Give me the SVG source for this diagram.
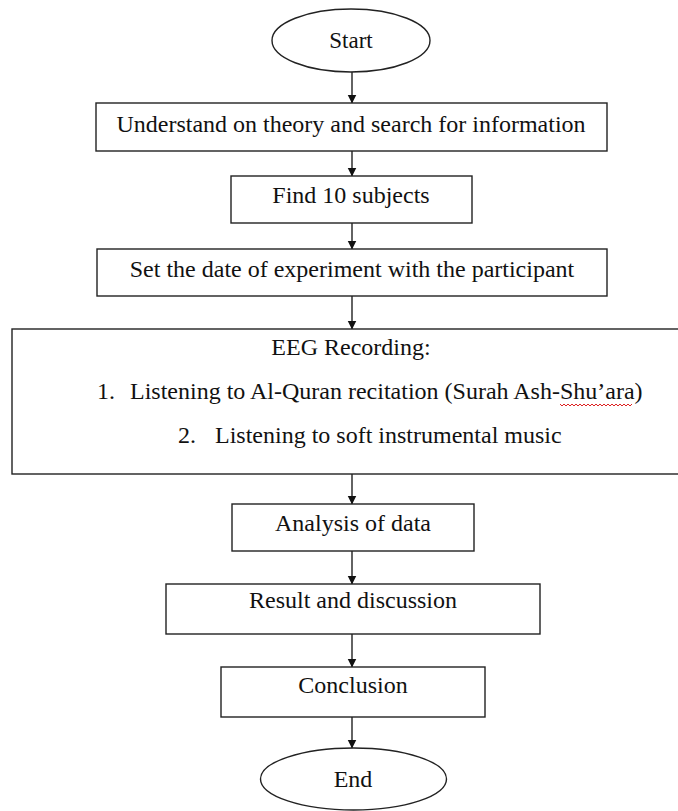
<svg xmlns="http://www.w3.org/2000/svg" width="678" height="811" viewBox="0 0 678 811">
<style>
.box{fill:#fff;stroke:#222;stroke-width:1.4}
.t{font-family:"Liberation Serif","Times New Roman",serif;font-size:24px;fill:#111}
.c{text-anchor:middle}
.con{stroke:#222;stroke-width:1.4;fill:none;marker-end:url(#ah)}
</style>
<defs>
<marker id="ah" markerWidth="9" markerHeight="10" refX="8.5" refY="5" orient="auto" markerUnits="userSpaceOnUse">
<path d="M0,0.5 L9,5 L0,9.5 Z" fill="#111"/>
</marker>
</defs>
<rect width="678" height="811" fill="#fff"/>
<g id="connectors">
<line class="con" x1="352" y1="72" x2="352" y2="103"/>
<line class="con" x1="352" y1="151" x2="352" y2="176"/>
<line class="con" x1="352" y1="223" x2="352" y2="249"/>
<line class="con" x1="352" y1="296" x2="352" y2="329"/>
<line class="con" x1="352" y1="474" x2="352" y2="504"/>
<line class="con" x1="352" y1="551" x2="352" y2="584"/>
<line class="con" x1="352" y1="634" x2="352" y2="667"/>
<line class="con" x1="352" y1="717" x2="352" y2="748"/>
</g>
<g id="start">
<ellipse class="box" cx="351" cy="40.5" rx="79" ry="31.5"/>
<text class="t c" x="351" y="48" style="font-size:23px">Start</text>
</g>
<g id="understand">
<rect class="box" x="96" y="103" width="511" height="48"/>
<text class="t c" x="351" y="132">Understand on theory and search for information</text>
</g>
<g id="find">
<rect class="box" x="231" y="176" width="241" height="47"/>
<text class="t c" x="351" y="203">Find 10 subjects</text>
</g>
<g id="setdate">
<rect class="box" x="97" y="249" width="510" height="47"/>
<text class="t c" x="352" y="277">Set the date of experiment with the participant</text>
</g>
<g id="eeg">
<rect class="box" x="12" y="329" width="670" height="145"/>
<text class="t c" x="351" y="355">EEG Recording:</text>
<text class="t" x="97" y="399">1.</text>
<text class="t" x="130" y="399">Listening to Al-Quran recitation (Surah Ash-Shu’ara)</text>
<path d="M560,404 l2,2 l2,-2 l2,2 l2,-2 l2,2 l2,-2 l2,2 l2,-2 l2,2 l2,-2 l2,2 l2,-2 l2,2 l2,-2 l2,2 l2,-2 l2,2 l2,-2 l2,2 l2,-2 l2,2 l2,-2 l2,2 l2,-2 l2,2 l2,-2 l2,2 l2,-2 l2,2 l2,-2 l2,2 l2,-2 l2,2 l2,-2 l2,2 l2,-2" fill="none" stroke="#d22" stroke-width="1"/>
<text class="t" x="178" y="443">2.</text>
<text class="t" x="215" y="443">Listening to soft instrumental music</text>
</g>
<g id="analysis">
<rect class="box" x="232" y="504" width="242" height="47"/>
<text class="t c" x="353" y="531">Analysis of data</text>
</g>
<g id="result">
<rect class="box" x="166" y="584" width="374" height="50"/>
<text class="t c" x="353" y="608">Result and discussion</text>
</g>
<g id="conclusion">
<rect class="box" x="221" y="667" width="264" height="50"/>
<text class="t c" x="353" y="693">Conclusion</text>
</g>
<g id="end">
<ellipse class="box" cx="353.5" cy="779" rx="93" ry="31"/>
<text class="t c" x="353" y="787">End</text>
</g>
</svg>
